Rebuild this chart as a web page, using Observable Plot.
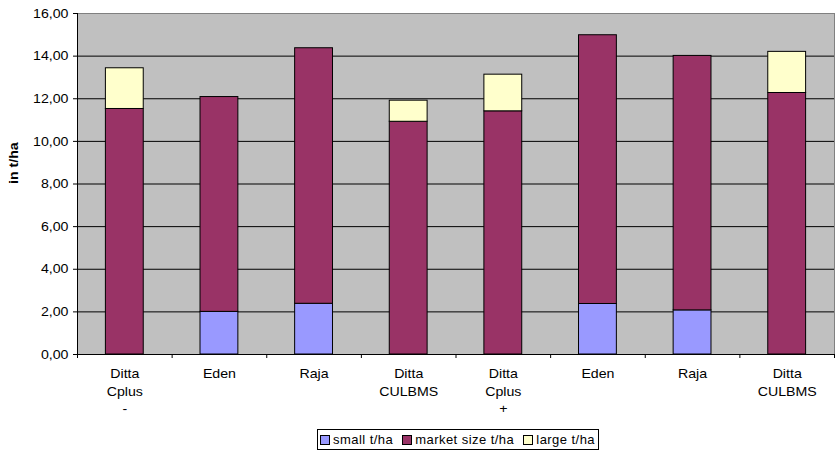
<!DOCTYPE html>
<html>
<head>
<meta charset="utf-8">
<script src="https://cdn.jsdelivr.net/npm/d3@7"></script>
<script src="https://cdn.jsdelivr.net/npm/@observablehq/plot@0.6"></script>
<style>
  body { margin: 0; background: #fff; font-family: "Liberation Sans", Arial, sans-serif; }
  #wrap { position: relative; width: 835px; height: 452px; }
  #legend { position: absolute; left: 317px; top: 429px; height: 21px; box-sizing: border-box; width: 282px;
            border: 1px solid #000; display: flex; align-items: center; justify-content: space-between;
            padding: 0 3px 0 2px; font-size: 13px; letter-spacing: 0.45px; color: #000; white-space: nowrap; }
  #legend .it { display: flex; align-items: center; }
  #legend .sw { width: 8px; height: 8px; border: 1px solid #000; margin-right: 3px; }
</style>
</head>
<body>
<div id="wrap"><div id="chart"></div><div id="legend"></div></div>
<script>
const categories = ["Ditta\nCplus\n-", "Eden", "Raja", "Ditta\nCULBMS", "Ditta\nCplus\n+", "Eden", "Raja", "Ditta\nCULBMS"];
const series = ["small t/ha", "market size t/ha", "large t/ha"];
const small  = [0, 2.00, 2.38, 0, 0, 2.37, 2.07, 0];
const market = [11.52, 10.08, 11.99, 10.92, 11.41, 12.61, 11.94, 12.27];
const large  = [1.91, 0, 0, 0.99, 1.72, 0, 0, 1.93];
const colors = ["#9999FF", "#993366", "#FFFFCC"];
const yTicks = [0, 2, 4, 6, 8, 10, 12, 14, 16];

const values = [small, market, large];
const rows = [];
categories.forEach((c, i) => {
  let base = 0;
  series.forEach((s, k) => {
    const v = values[k][i];
    if (v > 0) rows.push({i, series: s, y1: base, y2: base + v});
    base += v;
  });
});

const fmt = d => d.toFixed(2).replace(".", ",");
const FS = 13;

const chart = Plot.plot({
  width: 835,
  height: 422,
  marginTop: 13,
  marginBottom: 68,
  marginLeft: 77,
  marginRight: 1,
  style: {fontFamily: "'Liberation Sans', Arial, sans-serif", fontSize: FS + "px", color: "#000", background: "#fff"},
  x: {type: "linear", domain: [0, categories.length], axis: null},
  y: {domain: [0, 16], axis: null},
  color: {domain: series, range: colors},
  marks: [
    Plot.frame({fill: "#C0C0C0"}),
    Plot.ruleY(yTicks.filter(d => d > 0 && d < 16), {stroke: "#000", strokeWidth: 1}),
    Plot.rect(rows, {x1: d => d.i + 0.3, x2: d => d.i + 0.7, y1: "y1", y2: "y2", fill: "series", stroke: "#000", strokeWidth: 1}),
    Plot.frame({stroke: "#808080"}),
    Plot.ruleY([0], {stroke: "#000"}),
    Plot.ruleX([0], {stroke: "#000"}),
    Plot.axisY({ticks: yTicks, tickFormat: fmt, tickSize: 4, tickPadding: 5, label: null, className: "stretch", fontSize: FS}),
    Plot.axisX({ticks: d3.range(categories.length + 1), tickFormat: () => "", tickSize: 4, label: null}),
    Plot.axisX({ticks: d3.range(categories.length).map(i => i + 0.5), tickFormat: d => categories[Math.floor(d)],
                tickSize: 0, tickPadding: 11, lineHeight: 1.36, label: null, className: "stretch", fontSize: FS}),
    Plot.text(["in t/ha"], {frameAnchor: "left", rotate: -90, dx: -64, fontWeight: "bold", fontSize: FS, className: "stretch"})
  ]
});
document.getElementById("chart").appendChild(chart);

// widen glyphs slightly to match the reference's wide sans font
const S = 1.09;
chart.querySelectorAll(".stretch text").forEach(t => {
  const spans = t.querySelectorAll("tspan");
  const targets = spans.length ? Array.from(spans) : [t];
  targets.forEach(el => {
    const len = el.getComputedTextLength();
    if (len > 0) { el.setAttribute("textLength", (len * S).toFixed(2)); el.setAttribute("lengthAdjust", "spacingAndGlyphs"); }
  });
});

const legend = document.getElementById("legend");
series.forEach((s, k) => {
  const it = document.createElement("span");
  it.className = "it";
  const sw = document.createElement("span");
  sw.className = "sw";
  sw.style.background = colors[k];
  it.appendChild(sw);
  it.appendChild(document.createTextNode(s));
  legend.appendChild(it);
});
</script>
</body>
</html>
